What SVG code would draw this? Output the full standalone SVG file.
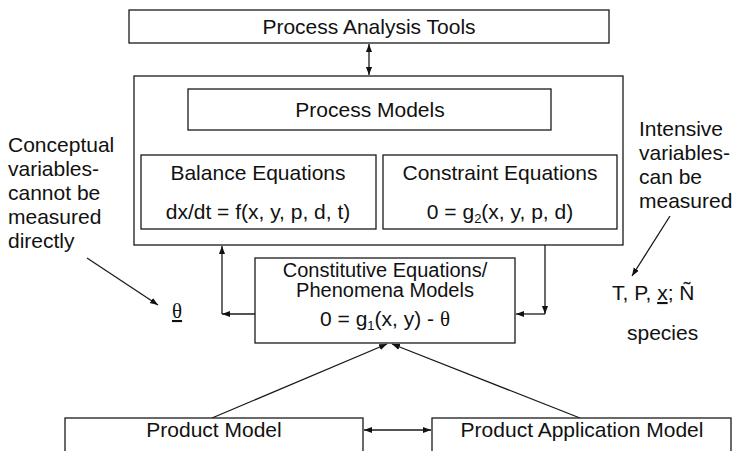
<svg xmlns="http://www.w3.org/2000/svg" width="736" height="451" viewBox="0 0 736 451">
  <defs>
    <marker id="ah" viewBox="0 0 10 10" refX="10" refY="5" markerWidth="8" markerHeight="8" markerUnits="userSpaceOnUse" orient="auto-start-reverse">
      <path d="M0,1.2 L10,5 L0,8.8 z" fill="#111"/>
    </marker>
  </defs>
  <style>
    .box{fill:#fff;stroke:#1a1a1a;stroke-width:1.3}
    .t{font-family:"Liberation Sans",Arial,sans-serif;font-size:21px;fill:#111}
    .c{text-anchor:middle}
    .sm{font-size:20px}
    .sub{font-size:13px}
    .th{font-family:"Liberation Serif","Times New Roman",serif}
    .ln{fill:none;stroke:#1a1a1a;stroke-width:1.3}
  </style>
  <rect width="736" height="451" fill="#fff"/>

  <!-- connectors -->
  <g id="connectors">
    <path class="ln" d="M369,44 V75" marker-start="url(#ah)" marker-end="url(#ah)"/>
    <path class="ln" d="M255,314 H222" marker-end="url(#ah)"/>
    <path class="ln" d="M222,314 V246" marker-end="url(#ah)"/>
    <path class="ln" d="M545,245 V314" marker-end="url(#ah)"/>
    <path class="ln" d="M545,314 H516" marker-end="url(#ah)"/>
    <path class="ln" d="M212,418 L387,344" marker-end="url(#ah)"/>
    <path class="ln" d="M580,418 L392,344" marker-end="url(#ah)"/>
    <path class="ln" d="M364,430 H431" marker-start="url(#ah)" marker-end="url(#ah)"/>
    <path class="ln" d="M87,258 L158,305" marker-end="url(#ah)"/>
    <path class="ln" d="M670,216 L632,276" marker-end="url(#ah)"/>
  </g>

  <g id="analysis-tools">
    <rect class="box" x="129" y="10" width="480" height="33"/>
    <text class="t c" x="369" y="34">Process Analysis Tools</text>
  </g>

  <g id="process-frame">
    <rect class="box" x="134" y="76" width="489" height="169"/>
  </g>

  <g id="process-models">
    <rect class="box" x="188" y="89" width="363" height="41"/>
    <text class="t c" x="370" y="117">Process Models</text>
  </g>

  <g id="balance">
    <rect class="box" x="141" y="155" width="235" height="74"/>
    <text class="t c" x="258" y="180">Balance Equations</text>
    <text class="t c" x="258" y="219">dx/dt = f(x, y, p, d, t)</text>
  </g>

  <g id="constraint">
    <rect class="box" x="383" y="155" width="234" height="74"/>
    <text class="t c" x="500" y="180">Constraint Equations</text>
    <text class="t c" x="500" y="219">0 = g<tspan class="sub" dy="4">2</tspan><tspan dy="-4">(x, y, p, d)</tspan></text>
  </g>

  <g id="constitutive">
    <rect class="box" x="255" y="258" width="260" height="85"/>
    <text class="t c sm" x="385" y="277">Constitutive Equations/</text>
    <text class="t c sm" x="385" y="297">Phenomena Models</text>
    <text class="t c" x="385" y="326">0 = g<tspan class="sub" dy="4">1</tspan><tspan dy="-4">(x, y) - </tspan><tspan class="th">θ</tspan></text>
  </g>

  <g id="product-model">
    <rect class="box" x="65" y="418" width="298" height="40"/>
    <text class="t c" x="214" y="437">Product Model</text>
  </g>

  <g id="product-application">
    <rect class="box" x="432" y="418" width="299" height="40"/>
    <text class="t c" x="582" y="437">Product Application Model</text>
  </g>

  <g id="conceptual-note">
    <text class="t" x="8" y="152">Conceptual</text>
    <text class="t" x="8" y="176">variables-</text>
    <text class="t" x="8" y="200">cannot be</text>
    <text class="t" x="8" y="224">measured</text>
    <text class="t" x="8" y="248">directly</text>
    <text class="t th" x="172" y="318" style="text-decoration:underline">θ</text>
  </g>

  <g id="intensive-note">
    <text class="t" x="639" y="136">Intensive</text>
    <text class="t" x="639" y="160">variables-</text>
    <text class="t" x="639" y="184">can be</text>
    <text class="t" x="639" y="208">measured</text>
    <text class="t" x="612" y="300">T, P, <tspan style="text-decoration:underline">x</tspan>; Ñ</text>
    <text class="t" x="627" y="340">species</text>
  </g>
</svg>
